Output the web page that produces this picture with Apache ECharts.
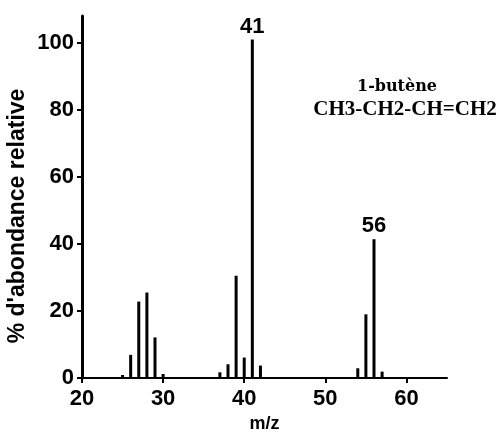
<!DOCTYPE html>
<html>
<head>
<meta charset="utf-8">
<script src="https://cdn.jsdelivr.net/npm/echarts@6/dist/echarts.min.js"></script>
<style>
  html, body { margin: 0; padding: 0; background: #fff; }
  #chart { width: 500px; height: 435px; }
</style>
</head>
<body>
<div id="chart"></div>
<script>
// spectre de masse du 1-butène
var mz = [25, 26, 27, 28, 29, 30, 37, 38, 39, 40, 41, 42, 54, 55, 56, 57];
var abondance = [0.9, 6.9, 22.8, 25.5, 12.1, 1.2, 1.7, 4.1, 30.5, 6.1, 101, 3.7, 2.9, 19.0, 41.4, 1.9];
var picsAnnotes = [41, 56];
var xTicks = [20, 30, 40, 50, 60];
var yTicks = [0, 20, 40, 60, 80, 100];

var police = '"Liberation Sans", Arial, sans-serif';

var donnees = mz.map(function (m, i) {
  var item = { value: [m, abondance[i]] };
  if (picsAnnotes.indexOf(m) >= 0) {
    item.label = { show: true, formatter: String(m) };
  }
  return item;
});

var chart = echarts.init(document.getElementById('chart'), null, { renderer: 'canvas' });

var option = {
  animation: false,
  backgroundColor: '#fff',
  grid: { left: 82, right: 53, top: 16, bottom: 57, outerBoundsMode: 'none' },
  xAxis: {
    type: 'value',
    min: 20,
    max: 65,
    interval: 10,
    splitLine: { show: false },
    axisLine: { lineStyle: { color: '#000', width: 2 } },
    axisTick: { customValues: xTicks, length: 5, lineStyle: { color: '#000', width: 2 } },
    axisLabel: {
      customValues: xTicks,
      margin: 10,
      color: '#000',
      fontFamily: police,
      fontWeight: 'bold',
      fontSize: 22
    },
    name: 'm/z',
    nameLocation: 'middle',
    nameGap: 34,
    nameTextStyle: { color: '#000', fontFamily: police, fontWeight: 'bold', fontSize: 18 }
  },
  yAxis: {
    type: 'value',
    min: 0,
    max: 108,
    interval: 20,
    splitLine: { show: false },
    axisLine: { lineStyle: { color: '#000', width: 3 } },
    axisTick: { customValues: yTicks, length: 5, lineStyle: { color: '#000', width: 2 } },
    axisLabel: {
      customValues: yTicks,
      margin: 8,
      color: '#000',
      fontFamily: police,
      fontWeight: 'bold',
      fontSize: 22
    }
  },
  series: [{
    type: 'bar',
    data: donnees,
    barWidth: 3,
    itemStyle: { color: '#000' },
    label: {
      show: false,
      position: 'top',
      distance: 2,
      color: '#000',
      fontFamily: police,
      fontWeight: 'bold',
      fontSize: 22
    }
  }],
  graphic: [
    {
      type: 'text',
      x: 18,
      y: 216,
      rotation: Math.PI / 2,
      style: {
        text: "% d'abondance relative",
        fill: '#000',
        font: 'bold 23px ' + police,
        textAlign: 'center',
        textVerticalAlign: 'middle'
      }
    },
    {
      type: 'text',
      x: 397,
      y: 87,
      style: {
        text: '1-butène',
        fill: '#000',
        font: 'bold 16px "DejaVu Serif", serif',
        textAlign: 'center',
        textVerticalAlign: 'middle'
      }
    },
    {
      type: 'text',
      x: 405,
      y: 110,
      style: {
        text: 'CH3-CH2-CH=CH2',
        fill: '#000',
        font: 'bold 21px "Liberation Serif", serif',
        textAlign: 'center',
        textVerticalAlign: 'middle'
      }
    }
  ]
};

chart.setOption(option);
</script>
</body>
</html>
